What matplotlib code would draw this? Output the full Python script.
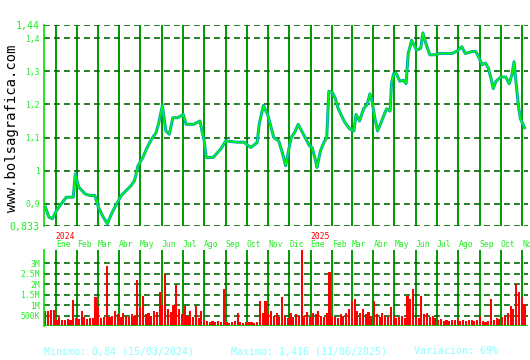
import matplotlib
matplotlib.use("Agg")
import matplotlib.pyplot as plt
import matplotlib.transforms as mtransforms
import pandas as pd

# cotizacion (cierre aproximado)
price_dates = [
    "2023-12-17", "2023-12-22", "2023-12-27", "2024-01-02", "2024-01-07", "2024-01-16",
    "2024-01-26", "2024-01-29", "2024-02-03", "2024-02-12", "2024-02-19", "2024-02-26",
    "2024-03-02", "2024-03-09", "2024-03-15", "2024-03-21", "2024-03-27", "2024-04-04",
    "2024-04-11", "2024-04-18", "2024-04-23", "2024-04-28", "2024-05-05", "2024-05-10",
    "2024-05-15", "2024-05-19", "2024-05-24", "2024-05-28", "2024-06-02", "2024-06-07",
    "2024-06-12", "2024-06-17", "2024-06-24", "2024-07-02", "2024-07-06", "2024-07-17",
    "2024-07-26", "2024-07-29", "2024-08-01", "2024-08-04", "2024-08-14", "2024-08-25",
    "2024-09-01", "2024-09-17", "2024-09-27", "2024-10-07", "2024-10-16", "2024-10-19",
    "2024-10-25", "2024-10-31", "2024-11-04", "2024-11-09", "2024-11-16", "2024-11-21",
    "2024-11-26", "2024-12-01", "2024-12-04", "2024-12-09", "2024-12-14", "2024-12-19",
    "2024-12-24", "2024-12-30", "2025-01-03", "2025-01-08", "2025-01-10", "2025-01-15",
    "2025-01-20", "2025-01-24", "2025-01-27", "2025-02-01", "2025-02-05", "2025-02-09",
    "2025-02-14", "2025-02-19", "2025-02-26", "2025-03-04", "2025-03-07", "2025-03-12",
    "2025-03-18", "2025-03-23", "2025-03-27", "2025-03-30", "2025-04-03", "2025-04-07",
    "2025-04-11", "2025-04-16", "2025-04-20", "2025-04-25", "2025-04-27", "2025-04-30",
    "2025-05-04", "2025-05-09", "2025-05-14", "2025-05-18", "2025-05-21", "2025-05-26",
    "2025-06-02", "2025-06-08", "2025-06-11", "2025-06-16", "2025-06-21", "2025-06-28",
    "2025-07-05", "2025-07-14", "2025-07-23", "2025-07-29", "2025-08-06", "2025-08-11",
    "2025-08-21", "2025-08-26", "2025-08-31", "2025-09-04", "2025-09-09", "2025-09-13",
    "2025-09-17", "2025-09-20", "2025-09-24", "2025-10-01", "2025-10-08", "2025-10-13",
    "2025-10-17", "2025-10-20", "2025-10-22", "2025-10-26", "2025-10-29", "2025-11-02",
    "2025-11-04",
]
price_close = [
    0.89, 0.86, 0.855, 0.88, 0.895, 0.92,
    0.92, 0.99, 0.95, 0.93, 0.925, 0.925,
    0.89, 0.86, 0.84, 0.87, 0.895, 0.925,
    0.94, 0.955, 0.97, 1.015, 1.04, 1.065,
    1.086, 1.10, 1.115, 1.146, 1.197, 1.12,
    1.11, 1.16, 1.16, 1.17, 1.14, 1.14,
    1.15, 1.118, 1.09, 1.04, 1.04, 1.066,
    1.09, 1.086, 1.086, 1.07, 1.085, 1.14,
    1.197, 1.17, 1.14, 1.10, 1.09, 1.056,
    1.015, 1.07, 1.10, 1.116, 1.14, 1.12,
    1.10, 1.076, 1.07, 1.03, 1.01, 1.06,
    1.086, 1.10, 1.24, 1.236, 1.22, 1.19,
    1.167, 1.146, 1.126, 1.12, 1.17, 1.15,
    1.187, 1.20, 1.232, 1.21, 1.16, 1.12,
    1.14, 1.167, 1.187, 1.18, 1.263, 1.293,
    1.293, 1.27, 1.273, 1.263, 1.354, 1.394,
    1.364, 1.37, 1.416, 1.38, 1.35, 1.35,
    1.354, 1.354, 1.354, 1.36, 1.374, 1.354,
    1.36, 1.36, 1.34, 1.32, 1.325, 1.31,
    1.278, 1.248, 1.27, 1.283, 1.283, 1.263,
    1.29, 1.329, 1.283, 1.20, 1.157, 1.14,
    1.13,
]

# volumen en millones, una barra cada 4 dias desde 17/12/2023
volume_start = "2023-12-17"
volumes = [
    0.72, 0.70, 0.75, 0.78,
    0.30, 0.45, 0.30, 0.28, 0.35, 0.30,
    1.25,
    0.40, 0.35, 0.70, 0.45, 0.35, 0.40, 0.38,
    1.40, 0.90,
    0.40, 0.45,
    2.88,
    0.45, 0.50, 0.70, 0.55, 0.45, 0.60, 0.50, 0.45, 0.55, 0.50,
    2.20, 0.90, 1.45,
    0.55, 0.60, 0.50, 0.70, 0.65,
    1.64, 1.00, 2.50,
    0.80, 0.65, 1.00,
    1.93,
    0.80, 0.55, 0.95, 0.50, 0.70, 0.45, 0.95, 0.40, 0.70,
    0.30, 0.25, 0.20, 0.25, 0.20, 0.25, 0.20,
    1.77,
    0.20, 0.15, 0.20, 0.25, 0.60, 0.20, 0.15, 0.20,
    0.20, 0.18, 0.15, 0.20,
    1.20, 0.60, 1.20,
    0.55, 0.70, 0.50, 0.60, 0.45,
    1.37,
    0.50, 0.40, 0.60, 0.45, 0.55, 0.50,
    3.60,
    0.50, 0.65, 0.45, 0.60, 0.55, 0.70, 0.50, 0.45, 0.60,
    2.56,
    0.50, 0.45, 0.40, 0.55, 0.50, 0.60, 0.80,
    1.20, 1.30,
    0.70, 0.60, 0.80, 0.55, 0.65, 0.50,
    1.20,
    0.55, 0.45, 0.60, 0.50, 0.45,
    0.90,
    0.50, 0.40, 0.45, 0.50, 0.40,
    1.45, 1.30, 1.77,
    0.45, 0.40,
    1.45,
    0.55, 0.60, 0.45, 0.50, 0.40,
    0.30, 0.35, 0.25, 0.30, 0.25, 0.30, 0.28, 0.35, 0.25, 0.30,
    0.25, 0.30, 0.28, 0.25, 0.30, 0.50, 0.22, 0.20, 0.25,
    1.30,
    0.30, 0.40, 0.35, 0.45, 0.50, 0.60,
    0.95, 0.80, 2.00, 1.60, 1.37, 1.06,
]

month_names = ["Ene", "Feb", "Mar", "Abr", "May", "Jun",
               "Jul", "Ago", "Sep", "Oct", "Nov", "Dic"]
price_ticks = [0.833, 0.9, 1.0, 1.1, 1.2, 1.3, 1.4, 1.44]
price_labels = ["0,833", "0,9", "1", "1,1", "1,2", "1,3", "1,4", "1,44"]
vol_ticks = [0.5, 1.0, 1.5, 2.0, 2.5, 3.0]
vol_labels = ["500K", "1M", "1.5M", "2M", "2.5M", "3M"]

MONO = "DejaVu Sans Mono"
LABEL_GREEN = "#22ee22"
MONTH_GREEN = "#009900"
DASH_GREEN = "#006600"

x_min = pd.Timestamp("2023-12-15")
x_max = pd.Timestamp("2025-11-09")
months = pd.date_range("2024-01-01", "2025-11-01", freq="MS")

fig = plt.figure(figsize=(5.3, 3.6), dpi=100)
fig.patch.set_facecolor("white")
ax = fig.add_axes([44 / 530, 1 - 226 / 360, 484 / 530, 201 / 360])
axv = fig.add_axes([44 / 530, 1 - 326 / 360, 484 / 530, 76 / 360])

for a in (ax, axv):
    a.set_xlim(x_min, x_max)
    a.set_xticks(months)
    a.set_xticklabels([])
    a.tick_params(axis="both", length=0, pad=3)
    a.grid(axis="x", color=MONTH_GREEN, linestyle="-", linewidth=1.4)
    a.grid(axis="y", color=DASH_GREEN, linestyle=(0, (3.5, 2.5)), linewidth=1.2)
    a.set_axisbelow(True)
    for side in ("top", "right", "bottom"):
        a.spines[side].set_visible(False)
    a.spines["left"].set_color("#00dd00")
    a.spines["left"].set_linewidth(1.2)

# precio
pd_dates = pd.to_datetime(price_dates)
ax.plot(pd_dates, price_close, color="#00aaaa", linewidth=2.2)
ax.plot(pd_dates, price_close, color="#00ff00", linewidth=0.9)
ax.set_ylim(0.833, 1.44)
ax.set_yticks(price_ticks)
ax.set_yticklabels(price_labels, family=MONO, color=LABEL_GREEN)
for lbl, val in zip(ax.get_yticklabels(), price_ticks):
    lbl.set_fontsize(7.2 if val in (0.833, 1.44) else 5.8)

# meses debajo del grafico de precio
trans = mtransforms.blended_transform_factory(ax.transData, ax.transAxes)
for m in months:
    ax.text(m, -0.09, month_names[m.month - 1], transform=trans, ha="left", va="center",
            family=MONO, fontsize=5.8, color=LABEL_GREEN, clip_on=False)
    if m.month == 1:
        ax.text(m, -0.05, str(m.year), transform=trans, ha="left", va="center",
                family=MONO, fontsize=5.8, color="#ff0000", clip_on=False)

# volumen
vol_dates = pd.date_range(volume_start, periods=len(volumes), freq="4D")
axv.bar(vol_dates, volumes, width=3.0, color="#ff0000", align="center", linewidth=0)
axv.set_ylim(0, 3.62)
axv.set_yticks(vol_ticks)
axv.set_yticklabels(vol_labels, family=MONO, fontsize=5.8, color=LABEL_GREEN)
axv.axhline(0, color="#00cc00", linewidth=2.0)

# textos
fig.text(12 / 530, 1 - 128 / 360, "www.bolsagrafica.com", rotation=90, ha="center",
         va="center", family=MONO, fontsize=10, color="black")
summary = [("Minimo: 0,84 (15/03/2024)", 44), ("Maximo: 1,416 (11/06/2025)", 231),
           ("Variación: 69%", 414)]
for txt, xpix in summary:
    fig.text(xpix / 530, 1 - 351 / 360, txt, ha="left", va="center",
             family=MONO, fontsize=7.1, color="#88ffff")

fig.savefig("out.png", dpi=100, facecolor="white")
